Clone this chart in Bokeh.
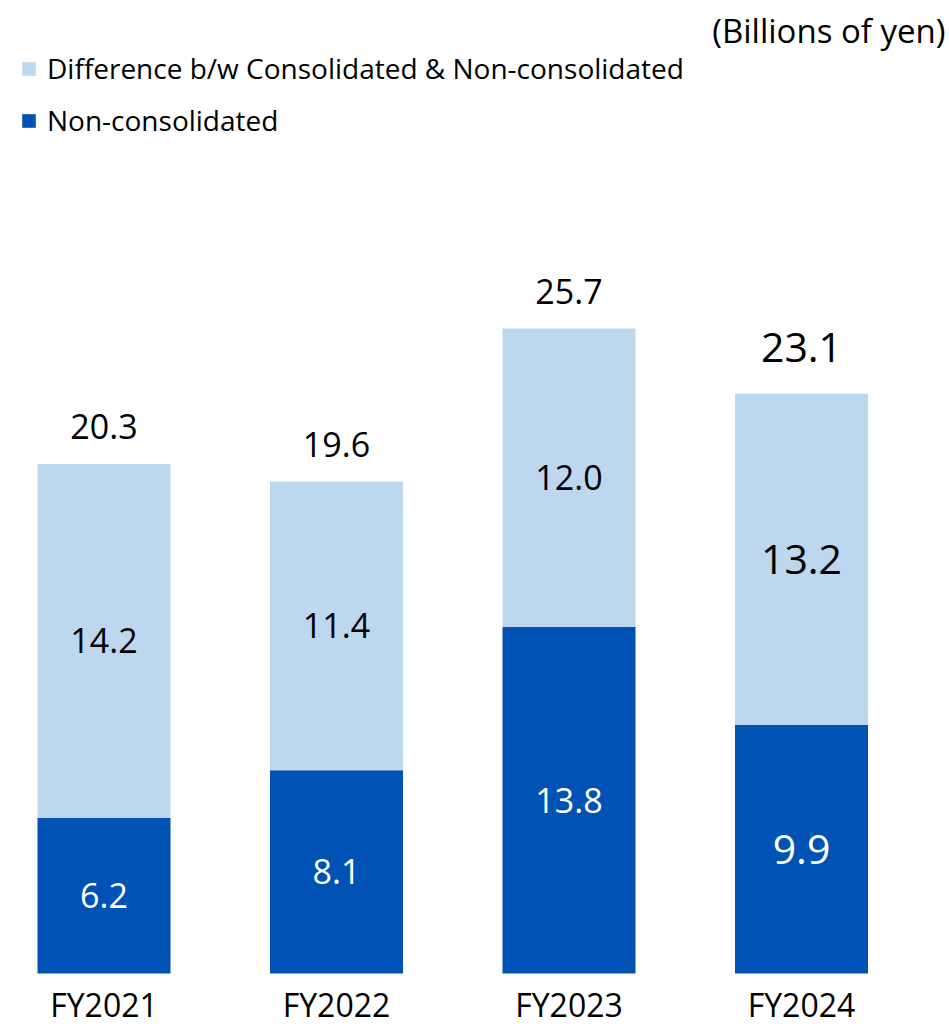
from bokeh.plotting import figure
from bokeh.models import Range1d, ColumnDataSource, Legend, LegendItem, Label
from bokeh.embed import file_html
from bokeh.resources import INLINE
from bokeh.core.properties import value

# ---- data ----
categories = ["FY2021", "FY2022", "FY2023", "FY2024"]
non_consolidated = [6.2, 8.1, 13.8, 9.9]
difference = [14.2, 11.4, 12.0, 13.2]
total = [20.3, 19.6, 25.7, 23.1]

FONT = "Open Sans"
LIGHT = "#BDD7EE"
DARK = "#0052B4"

idx = list(range(len(categories)))
sizes = ["34px", "34px", "34px", "41px"]
top_off = [-37, -37, -37, -46]

src = ColumnDataSource(dict(
    x=idx,
    cat=categories,
    zero=[0] * len(idx),
    non=non_consolidated,
    diff=difference,
    tot=total,
    non_mid=[n / 2 for n in non_consolidated],
    diff_mid=[n + (t - n) / 2 for n, t in zip(non_consolidated, total)],
    non_lbl=[f"{v:.1f}" for v in non_consolidated],
    diff_lbl=[f"{v:.1f}" for v in difference],
    tot_lbl=[f"{v:.1f}" for v in total],
    size=sizes,
    toff=top_off,
))

W, H = 949, 1028
baseline_px = 973
px_per_unit = 25.1
spacing = 232.5
x0 = -103.5 / spacing

p = figure(width=W, height=H, output_backend="svg", toolbar_location=None,
           x_range=Range1d(x0, x0 + W / spacing),
           y_range=Range1d(-(H - baseline_px) / px_per_unit, baseline_px / px_per_unit),
           x_axis_location=None, y_axis_location=None,
           min_border_left=0, min_border_right=0, min_border_top=0,
           min_border_bottom=0)
p.outline_line_color = None
p.xgrid.grid_line_color = None
p.ygrid.grid_line_color = None
p.background_fill_color = "white"
p.border_fill_color = "white"

bw = 133 / spacing
r_non = p.vbar(x="x", top="non", bottom=0, width=bw, source=src,
               fill_color=DARK, line_color=None)
r_diff = p.vbar(x="x", top="tot", bottom="non", width=bw, source=src,
                fill_color=LIGHT, line_color=None)

p.text(x="x", y="non_mid", text="non_lbl", source=src, text_align="center",
       text_baseline="middle", text_color="white", text_font=value(FONT),
       text_font_size="size")
p.text(x="x", y="diff_mid", text="diff_lbl", source=src, text_align="center",
       text_baseline="middle", text_color="black", text_font=value(FONT),
       text_font_size="size")
p.text(x="x", y="tot", text="tot_lbl", source=src, text_align="center",
       text_baseline="middle", text_color="black", text_font=value(FONT),
       text_font_size="size", y_offset="toff")

# category labels
p.text(x="x", y="zero", text="cat", source=src, text_align="center",
       text_baseline="middle", text_color="black", text_font=value(FONT),
       text_font_size="32px", y_offset=31)

legend = Legend(items=[
    LegendItem(label="Difference b/w Consolidated & Non-consolidated", renderers=[r_diff]),
    LegendItem(label="Non-consolidated", renderers=[r_non]),
], location=(20, H - 139), orientation="vertical")
legend.glyph_width = 17
legend.glyph_height = 17
legend.label_text_font = FONT
legend.label_text_font_size = "28px"
legend.label_text_color = "black"
legend.label_standoff = 10
legend.spacing = 14
legend.padding = 0
legend.margin = 0
legend.border_line_color = None
legend.background_fill_alpha = 0
legend.label_height = 17
p.add_layout(legend)

p.add_layout(Label(x=x0 + 945 / spacing, y=(baseline_px - 30) / px_per_unit,
                   text="(Billions of yen)", text_align="right",
                   text_baseline="middle", text_font=FONT,
                   text_font_size="33px", text_color="black"))

open("out.html", "w").write(file_html(p, INLINE))
